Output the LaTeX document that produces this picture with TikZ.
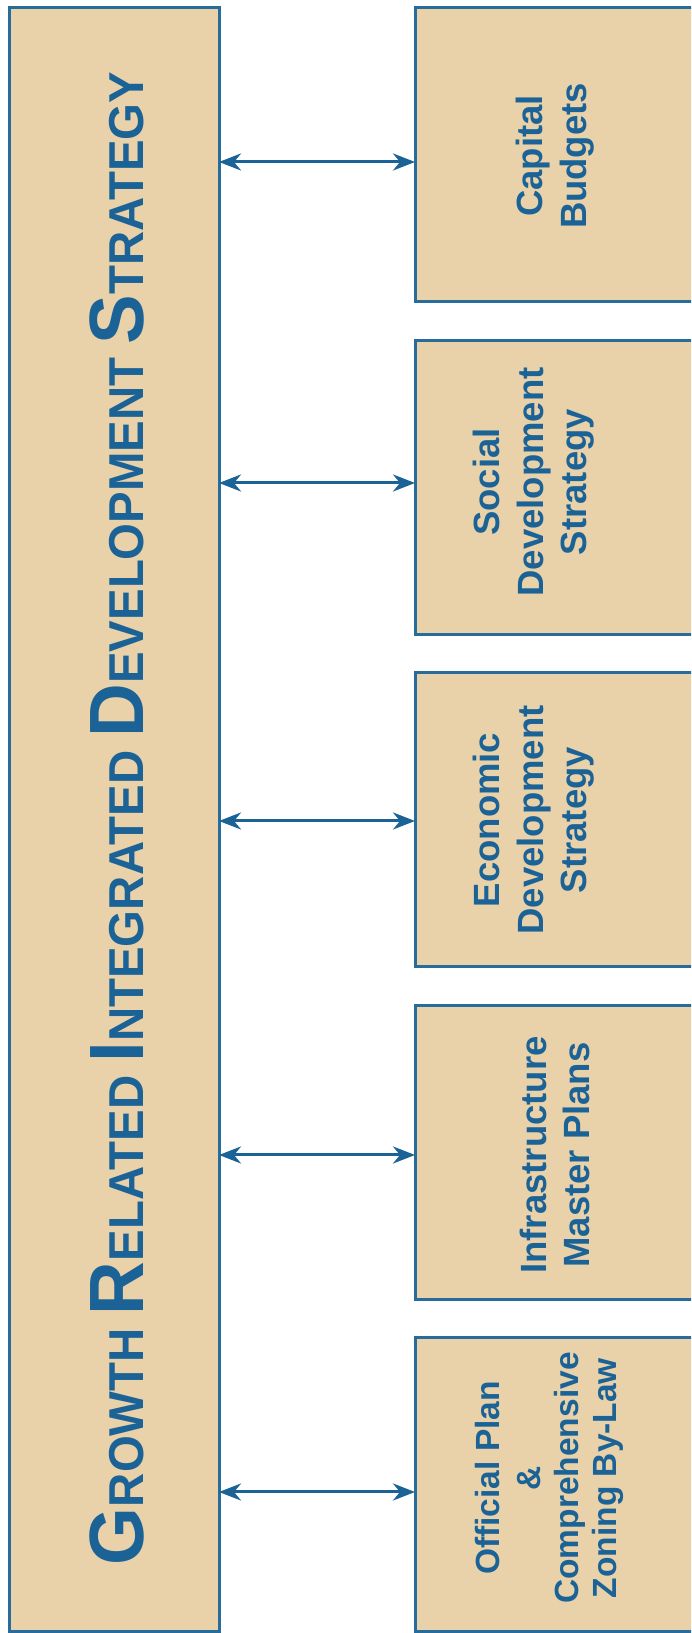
\documentclass[tikz,border=0pt]{standalone}
\usepackage{fontspec}
\setmainfont{Liberation Sans}
\usetikzlibrary{arrows.meta}
\definecolor{tan}{RGB}{233,209,170}
\definecolor{dblue}{RGB}{27,99,150}
\definecolor{lblue}{RGB}{40,108,155}
\newcommand{\BigL}[1]{{\fontsize{77}{77}\selectfont #1}}
\newcommand{\SmL}[1]{{\fontsize{49}{49}\selectfont #1}}
\tikzset{
  panel/.style={draw=lblue, fill=tan, line width=3pt, inner sep=0pt, outer sep=0pt},
  rbox/.style={panel, minimum width=305pt, minimum height=294pt},
  rtext/.style={rotate=90, align=center, text=dblue, inner sep=0pt,
    font=\bfseries\fontsize{36.5}{43.5}\selectfont},
  link/.style={draw=dblue, line width=3pt, {Stealth[length=22pt,width=17pt,inset=7pt]}-{Stealth[length=22pt,width=17pt,inset=7pt]}}
}
\begin{document}
\begin{tikzpicture}[x=1pt,y=1pt]
\useasboundingbox (0,0) rectangle (691,1633);
\clip (0,0) rectangle (691,1633);
\fill[white] (0,0) rectangle (691,1633);
% left panel
\node[panel, minimum width=210pt, minimum height=1624pt] (L) at (114,813) {};
\node[rotate=90, anchor=base, text=dblue, inner sep=0pt, font=\bfseries] (T) at (143,814.5)
  {\resizebox{1493pt}{\height}{\BigL{G}\SmL{ROWTH }\BigL{R}\SmL{ELATED }\BigL{I}\SmL{NTEGRATED }\BigL{D}\SmL{EVELOPMENT }\BigL{S}\SmL{TRATEGY}}};
% right panels
\node[rbox] (B1) at (567.5,1478) {};
\node[rbox] (B2) at (567.5,1145.5) {};
\node[rbox] (B3) at (567.5,813) {};
\node[rbox] (B4) at (567.5,480.5) {};
\node[rbox] (B5) at (567.5,148) {};
\node[rtext] (T1) at (555,1477) {Capital\\Budgets};
\node[rtext] (T2) at (534,1151) {Social\\Development\\Strategy};
\node[rtext] (T3) at (534,813) {Economic\\Development\\Strategy};
\node[rtext] (T4) at (555,478) {Infrastructure\\Master Plans};
\node[rtext, font=\bfseries\fontsize{33.5}{38}\selectfont] (T5) at (549,155) {Official Plan\\[3pt]\&\\Comprehensive\\Zoning By-Law};
% connectors
\coordinate (a1) at (0,1471);
\coordinate (a2) at (0,1150);
\coordinate (a3) at (0,812);
\coordinate (a4) at (0,478);
\coordinate (a5) at (0,141);
\draw[link] (L.east |- a1) -- (B1.west |- a1);
\draw[link] (L.east |- a2) -- (B2.west |- a2);
\draw[link] (L.east |- a3) -- (B3.west |- a3);
\draw[link] (L.east |- a4) -- (B4.west |- a4);
\draw[link] (L.east |- a5) -- (B5.west |- a5);
\end{tikzpicture}
\end{document}
